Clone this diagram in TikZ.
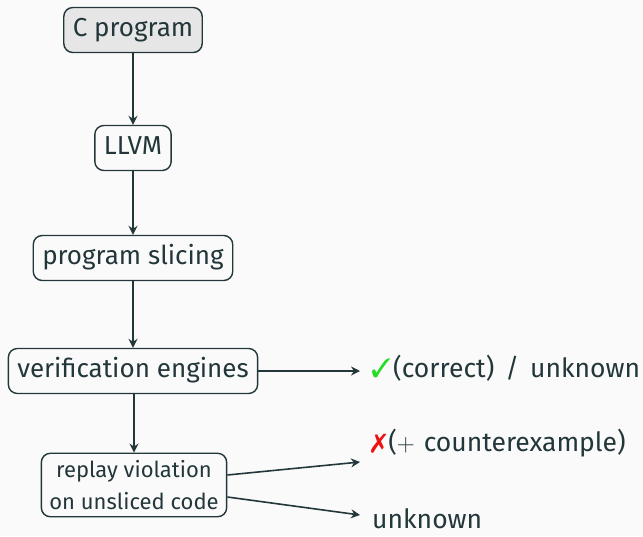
\documentclass[tikz,border=0pt]{standalone}
\usepackage{fontspec}
\setmainfont{Fira Sans}
\usepackage{pifont}
\usetikzlibrary{arrows.meta}
\definecolor{darkteal}{HTML}{23373B}
\definecolor{pagebg}{HTML}{FAFAFA}
\definecolor{boxgray}{HTML}{E6E6E6}
\definecolor{okgreen}{HTML}{22DD22}
\definecolor{badred}{HTML}{EE1111}
\begin{document}
\begin{tikzpicture}[x=1pt,y=-1pt,
  every node/.style={text=darkteal},
  stagebox/.style={draw=darkteal, line width=1.4pt, rounded corners=9pt, fill=pagebg,
    font=\fontsize{26}{32}\selectfont, inner xsep=9pt, inner ysep=10pt,
    text height=19pt, text depth=6pt},
  smallbox/.style={draw=darkteal, line width=1.4pt, rounded corners=9pt, fill=pagebg,
    font=\fontsize{22}{32}\selectfont, inner xsep=8pt, inner ysep=7pt, align=center},
  outcome/.style={font=\fontsize{26.5}{32}\selectfont, anchor=west, inner sep=0pt,
    text height=19pt, text depth=6pt},
  flow/.style={draw=darkteal, line width=1.6pt, -{Stealth[length=9pt,width=9pt,inset=3pt]}}]
  % page background and extent
  \fill[pagebg] (0,0) rectangle (643,536);
  \useasboundingbox (0,0) rectangle (643,536);

  % pipeline stages
  \node[stagebox, fill=boxgray] (src) at (133,30) {C program};
  \node[stagebox] (llvm) at (133,148) {LLVM};
  \node[stagebox] (slice) at (133,258) {program slicing};
  \node[stagebox] (verif) at (133,371) {verification engines};
  \node[smallbox] (replay) at (134,485) {replay violation\\on unsliced code};

  % results
  \node[outcome] (ok) at (371,371) {{\color{okgreen}\ding{51}}\hspace{2pt}(correct)\hspace{4pt} / \hspace{4pt}unknown};
  \node[outcome] (cex) at (371,445) {{\color{badred}\ding{55}}\hspace{2pt}($+$\hspace{2pt} counterexample)};
  \node[outcome] (unk) at (372,522) {unknown};
  \coordinate (okin) at (360,371);
  \coordinate (cexin) at (360,462);
  \coordinate (unkin) at (360,515);

  % connectors
  \draw[flow] (src) -- (llvm);
  \draw[flow] (llvm) -- (slice);
  \draw[flow] (slice) -- (verif);
  \draw[flow] (verif.south -| replay.north) -- (replay.north);
  \draw[flow] (verif.east) -- (okin);
  \draw[flow] (replay.east |- 0,475) -- (cexin);
  \draw[flow] (replay.east |- 0,497) -- (unkin);
\end{tikzpicture}
\end{document}
